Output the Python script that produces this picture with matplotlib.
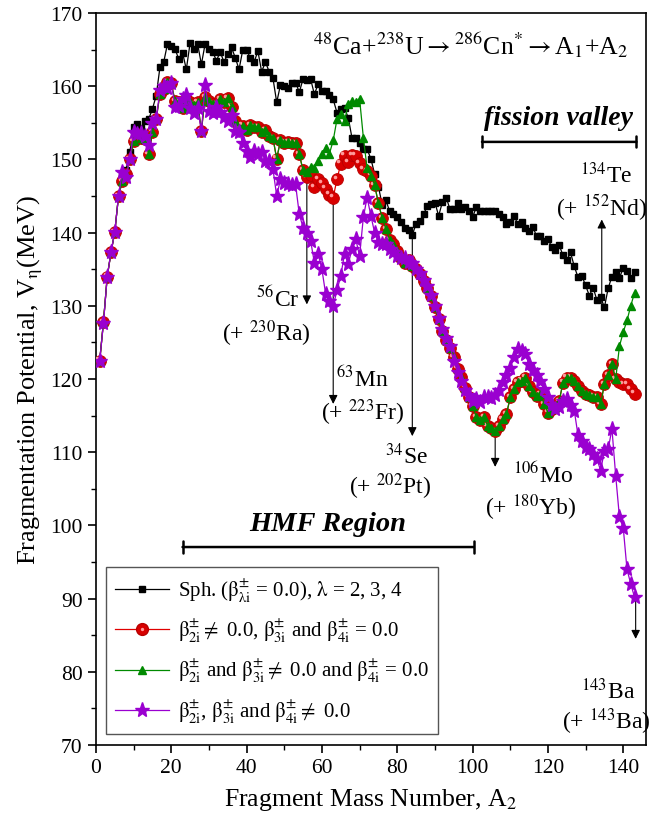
import matplotlib
matplotlib.use("Agg")
import matplotlib.pyplot as plt
from matplotlib.lines import Line2D
from matplotlib.transforms import ScaledTranslation
from matplotlib.legend_handler import HandlerTuple
import numpy as np

plt.rcParams['font.family'] = ['Liberation Serif', 'DejaVu Serif']
plt.rcParams['mathtext.fontset'] = 'stix'

A2 = list(range(1, 144))

sph = [122.5, 127.8, 134.0, 137.3, 140.1, 145.0, 147.6, 148.6, 151.0, 154.5,
       154.8, 154.3, 155.2, 155.5, 156.9, 158.7, 162.6, 163.3, 165.8, 165.5,
       165.1, 163.7, 164.6, 162.3, 165.9, 165.1, 165.8, 163.0, 165.8, 165.1,
       164.7, 163.5, 164.7, 163.3, 164.4, 165.3, 163.9, 162.3, 165.0, 164.9,
       163.9, 163.3, 164.8, 162.0, 163.3, 162.0, 161.1, 157.8, 160.2, 160.0,
       159.8, 160.5, 160.5, 159.2, 161.0, 160.8, 161.0, 158.9, 160.3, 159.4,
       159.4, 158.8, 158.2, 156.4, 156.9, 157.0, 155.7, 152.9, 153.0, 152.2,
       151.4, 151.4, 150.1, 148.0, 146.3, 143.8, 144.4, 142.9, 142.5, 142.1,
       141.4, 140.7, 140.3, 139.7, 141.2, 141.6, 142.5, 143.7, 143.9, 144.1,
       142.3, 144.2, 144.8, 143.2, 143.2, 144.1, 143.2, 143.5, 142.9, 142.1,
       143.5, 143.0, 143.0, 142.9, 143.0, 142.9, 142.5, 142.1, 141.2, 141.5,
       142.3, 141.2, 141.4, 140.6, 140.2, 140.8, 139.5, 139.6, 138.8, 139.2,
       138.0, 137.6, 138.3, 136.9, 136.2, 137.3, 135.4, 133.9, 134.1, 132.8,
       131.4, 132.5, 130.8, 131.2, 129.8, 132.4, 134.0, 134.6, 133.8, 135.2,
       134.8, 133.8, 134.6]

beta2 = [122.5, 127.8, 134.0, 137.3, 140.1, 145.0, 147.0, 148.0, 150.0, 152.5,
         153.5, 153.0, 152.8, 150.7, 153.8, 155.5, 159.0, 159.6, 160.6, 160.4,
         158.0, 157.8, 157.0, 158.3, 157.8, 157.5, 157.8, 153.9, 158.5, 158.0,
         157.6, 157.5, 158.2, 157.8, 158.4, 157.2, 155.3, 154.3, 154.6, 154.0,
         154.7, 154.4, 154.4, 153.8, 154.0, 153.2, 152.9, 150.1, 152.6, 152.3,
         152.4, 152.3, 152.2, 150.7, 148.5, 147.6, 147.9, 146.2, 147.3, 146.8,
         146.0, 145.2, 144.8, 147.3, 149.4, 150.5, 149.6, 150.6, 150.5, 149.5,
         148.7, 148.4, 147.8, 146.5, 144.0, 142.0, 140.5, 139.0, 138.5, 137.5,
         136.5, 135.8, 136.2, 135.5, 135.0, 134.3, 133.4, 132.5, 131.3, 129.8,
         128.2, 126.5, 125.3, 124.2, 123.0, 121.4, 120.3, 118.8, 117.5, 116.3,
         114.8, 114.4, 114.8, 113.6, 113.3, 112.9, 113.6, 114.5, 115.2, 117.5,
         118.6, 119.6, 119.8, 120.2, 119.0, 118.2, 117.7, 117.9, 116.6, 115.4,
         115.9, 116.2, 117.0, 119.5, 120.2, 120.2, 119.8, 119.1, 118.4, 118.0,
         117.8, 117.6, 117.5, 116.6, 119.3, 120.5, 122.0, 120.0, 119.6, 119.3,
         119.3, 118.6, 118.0]

beta23 = [122.5, 127.8, 134.0, 137.3, 140.1, 145.0, 147.0, 148.0, 150.0, 152.5,
          153.5, 153.0, 152.8, 150.7, 153.8, 155.5, 159.0, 159.6, 160.6, 160.4,
          158.0, 157.8, 157.0, 158.3, 157.8, 157.5, 157.8, 153.9, 158.5, 158.0,
          157.6, 157.5, 158.2, 157.8, 158.4, 157.2, 155.3, 154.3, 154.6, 154.0,
          154.7, 154.4, 154.4, 153.8, 154.0, 153.2, 152.9, 150.1, 152.6, 152.3,
          152.4, 152.3, 152.2, 150.7, 148.5, 148.3, 149.0, 148.9, 149.8, 150.7,
          151.6, 150.8, 152.6, 155.5, 156.2, 155.2, 157.6, 158.0, 157.8, 158.3,
          153.0, 148.8, 147.8, 146.5, 144.0, 142.0, 140.5, 139.0, 138.5, 137.5,
          136.5, 135.8, 136.2, 135.5, 135.0, 134.3, 133.4, 132.5, 131.3, 129.8,
          128.2, 126.5, 125.3, 124.2, 123.0, 121.4, 120.3, 118.8, 117.5, 116.3,
          114.8, 114.4, 114.8, 113.6, 113.3, 112.9, 113.6, 114.5, 115.2, 117.5,
          118.6, 119.6, 119.8, 120.2, 119.0, 118.2, 117.7, 117.9, 116.6, 115.4,
          115.9, 116.2, 117.0, 119.5, 120.2, 120.2, 119.8, 119.1, 118.4, 118.0,
          117.8, 117.6, 117.5, 116.6, 119.3, 120.5, 122.0, 120.0, 124.5, 126.4,
          128.0, 130.0, 131.8]

beta234 = [122.5, 127.6, 134.0, 137.3, 140.1, 145.0, 148.3, 147.6, 150.0, 153.8,
           153.5, 153.6, 153.2, 152.0, 155.0, 155.5, 159.5, 160.0, 159.8, 160.5,
           157.2, 157.3, 158.2, 158.8, 157.0, 156.3, 157.0, 153.9, 160.2, 156.6,
           156.4, 157.1, 156.5, 155.8, 155.2, 156.1, 153.9, 153.7, 152.3, 151.2,
           150.3, 151.2, 150.7, 151.0, 149.8, 149.8, 148.7, 145.0, 147.3, 146.8,
           146.6, 146.5, 146.6, 142.5, 140.7, 140.0, 138.9, 135.9, 137.1, 135.0,
           131.6, 130.7, 130.0, 132.1, 134.1, 137.1, 135.7, 137.8, 139.1, 136.8,
           142.1, 144.8, 142.3, 140.0, 138.7, 138.5, 138.4, 137.7, 137.3, 136.8,
           136.5, 136.6, 136.0, 135.8, 135.0, 134.5, 133.6, 132.7, 131.5, 130.0,
           128.4, 126.8, 125.6, 124.5, 122.5, 121.0, 119.7, 118.5, 117.8, 117.0,
           117.3, 116.8, 117.5, 117.5, 117.4, 117.8, 118.5, 119.6, 120.5, 121.5,
           123.0, 124.1, 123.9, 123.4, 122.0, 121.3, 120.5, 119.8, 118.6, 117.6,
           116.4, 115.9, 116.2, 117.0, 117.3, 116.5, 115.7, 112.3, 111.5, 110.7,
           110.4, 109.8, 109.1, 107.5, 110.2, 110.4, 113.2, 106.8, 101.1, 99.7,
           94.0, 92.0, 90.2]

B = r'\mathrm{\beta}'
labels = [r'Sph. ($%s^{\pm}_{\mathrm{\lambda i}}$ = 0.0), $\mathrm{\lambda}$ = 2, 3, 4' % B,
          r'$%s^{\pm}_{\mathrm{2i}}\neq$ 0.0, $%s^{\pm}_{\mathrm{3i}}$ and $%s^{\pm}_{\mathrm{4i}}$ = 0.0' % (B, B, B),
          r'$%s^{\pm}_{\mathrm{2i}}$ and $%s^{\pm}_{\mathrm{3i}}\neq$ 0.0 and $%s^{\pm}_{\mathrm{4i}}$ = 0.0' % (B, B, B),
          r'$%s^{\pm}_{\mathrm{2i}}$, $%s^{\pm}_{\mathrm{3i}}$ and $%s^{\pm}_{\mathrm{4i}}\neq$ 0.0' % (B, B, B)]

fig = plt.figure(figsize=(6.57, 8.28), dpi=100)
ax = fig.add_axes([0.146, 0.099, 0.837, 0.884])

PURPLE = '#9a00d0'
GREEN = '#008a00'
RED = '#e00000'

ax.plot(A2, sph, '-s', color='black', lw=0.9, ms=4.8, zorder=3)
ax.plot(A2, beta2, '-', color=RED, lw=0.9, zorder=4)
ax.plot(A2, beta2, 'o', ms=8.5, mfc='#d80000', mec='#b80000', mew=0.6, zorder=4)
hl = ax.transData + ScaledTranslation(-1.7 / 72, 1.7 / 72, fig.dpi_scale_trans)
ax.plot(A2, beta2, 'o', ms=2.6, mfc='#ff9a9a', mec='none', transform=hl, zorder=4)
ax.plot(A2, beta23, '-^', color=GREEN, lw=0.9, ms=5.5, zorder=5)
ax.plot(A2, beta234, '-*', color=PURPLE, lw=0.9, ms=11, zorder=6)

ax.set_xlim(0, 146)
ax.set_ylim(70, 170)
ax.set_xticks(np.arange(0, 141, 20))
ax.set_xticks(np.arange(10, 146, 20), minor=True)
ax.set_yticks(np.arange(70, 171, 10))
ax.set_yticks(np.arange(75, 170, 10), minor=True)
ax.tick_params(which='major', direction='out', length=6, width=1.2, labelsize=15.5)
ax.tick_params(which='minor', direction='out', length=3.5, width=1.0)
for s in ax.spines.values():
    s.set_linewidth(1.2)

ax.set_xlabel(r'Fragment Mass Number, A$_2$', fontsize=18.5, labelpad=6)
ax.set_ylabel(r'Fragmentation Potential, V$_\mathrm{\eta}$(MeV)', fontsize=19, labelpad=4)

ax.text(99.5, 165.8, r'$^{48}$Ca+$^{238}$U$\rightarrow$$^{286}$Cn$^{*}$$\rightarrow$A$_1$+A$_2$',
        ha='center', va='center', fontsize=18.5)

# region bars
ax.text(122.8, 155.8, 'fission valley', ha='center', va='center', fontsize=20,
        fontweight='bold', fontstyle='italic')
ax.annotate('', xy=(102.5, 152.4), xytext=(143.5, 152.4),
            arrowprops=dict(arrowstyle='|-|', lw=1.8, color='black', mutation_scale=4, shrinkA=0, shrinkB=0))
ax.text(61.5, 100.2, 'HMF Region', ha='center', va='center', fontsize=20.5,
        fontweight='bold', fontstyle='italic')
ax.annotate('', xy=(23, 97.05), xytext=(100.3, 97.05),
            arrowprops=dict(arrowstyle='|-|', lw=1.8, color='black', mutation_scale=4, shrinkA=0, shrinkB=0))

FS = 17
arr = dict(arrowstyle='-|>', color='black', lw=0.8, mutation_scale=13, shrinkA=0, shrinkB=0)
# 56Cr
ax.annotate('', xy=(56, 130.2), xytext=(56, 147.6), arrowprops=arr)
ax.text(48.3, 131.0, r'$^{56}$Cr', ha='center', va='center', fontsize=FS)
ax.text(45.1, 126.3, r'(+ $^{230}$Ra)', ha='center', va='center', fontsize=FS)
# 63Mn
ax.annotate('', xy=(63, 116.6), xytext=(63, 144.8), arrowprops=arr)
ax.text(70.8, 120.1, r'$^{63}$Mn', ha='center', va='center', fontsize=FS)
ax.text(70.8, 115.5, r'(+ $^{223}$Fr)', ha='center', va='center', fontsize=FS)
# 34Se
ax.annotate('', xy=(84, 112.2), xytext=(84, 139.7), arrowprops=arr)
ax.text(82.5, 109.6, r'$^{34}$Se', ha='center', va='center', fontsize=FS)
ax.text(78.2, 105.4, r'(+ $^{202}$Pt)', ha='center', va='center', fontsize=FS)
# 106Mo
ax.annotate('', xy=(106, 108.0), xytext=(106, 112.9), arrowprops=arr)
ax.text(118.8, 107.0, r'$^{106}$Mo', ha='center', va='center', fontsize=FS)
ax.text(115.4, 102.6, r'(+ $^{180}$Yb)', ha='center', va='center', fontsize=FS)
# 134Te
ax.annotate('', xy=(134.3, 141.8), xytext=(134.3, 129.8), arrowprops=arr)
ax.text(135.6, 148.0, r'$^{134}$Te', ha='center', va='center', fontsize=FS)
ax.text(134.2, 143.6, r'(+ $^{152}$Nd)', ha='center', va='center', fontsize=FS)
# 143Ba
ax.annotate('', xy=(143.3, 84.5), xytext=(143.3, 90.2), arrowprops=arr)
ax.text(136.0, 77.5, r'$^{143}$Ba', ha='center', va='center', fontsize=FS)
ax.text(135.5, 73.3, r'(+ $^{143}$Ba)', ha='center', va='center', fontsize=FS)

h_sph = Line2D([], [], color='black', lw=0.9, marker='s', ms=4.8)
h_r1 = Line2D([], [], color=RED, lw=0.9, marker='o', ms=8.5, mfc='#d80000', mec='#b80000')
h_r2 = Line2D([], [], color='none', lw=0, marker='o', ms=2.4, mfc='#ff9a9a', mec='none')
h_g = Line2D([], [], color=GREEN, lw=0.9, marker='^', ms=5.5)
h_p = Line2D([], [], color=PURPLE, lw=0.9, marker='*', ms=11)
leg = ax.legend([h_sph, (h_r1, h_r2), h_g, h_p], labels,
                handler_map={tuple: HandlerTuple(ndivide=1, pad=0)},
                loc='lower left', bbox_to_anchor=(0.018, 0.015), fontsize=15,
                frameon=True, fancybox=False, edgecolor='#555555', framealpha=1,
                handlelength=2.6, labelspacing=0.62, borderpad=0.45, handletextpad=0.4,
                borderaxespad=0)
leg.get_frame().set_linewidth(1.0)

fig.savefig('out.png', dpi=100)
